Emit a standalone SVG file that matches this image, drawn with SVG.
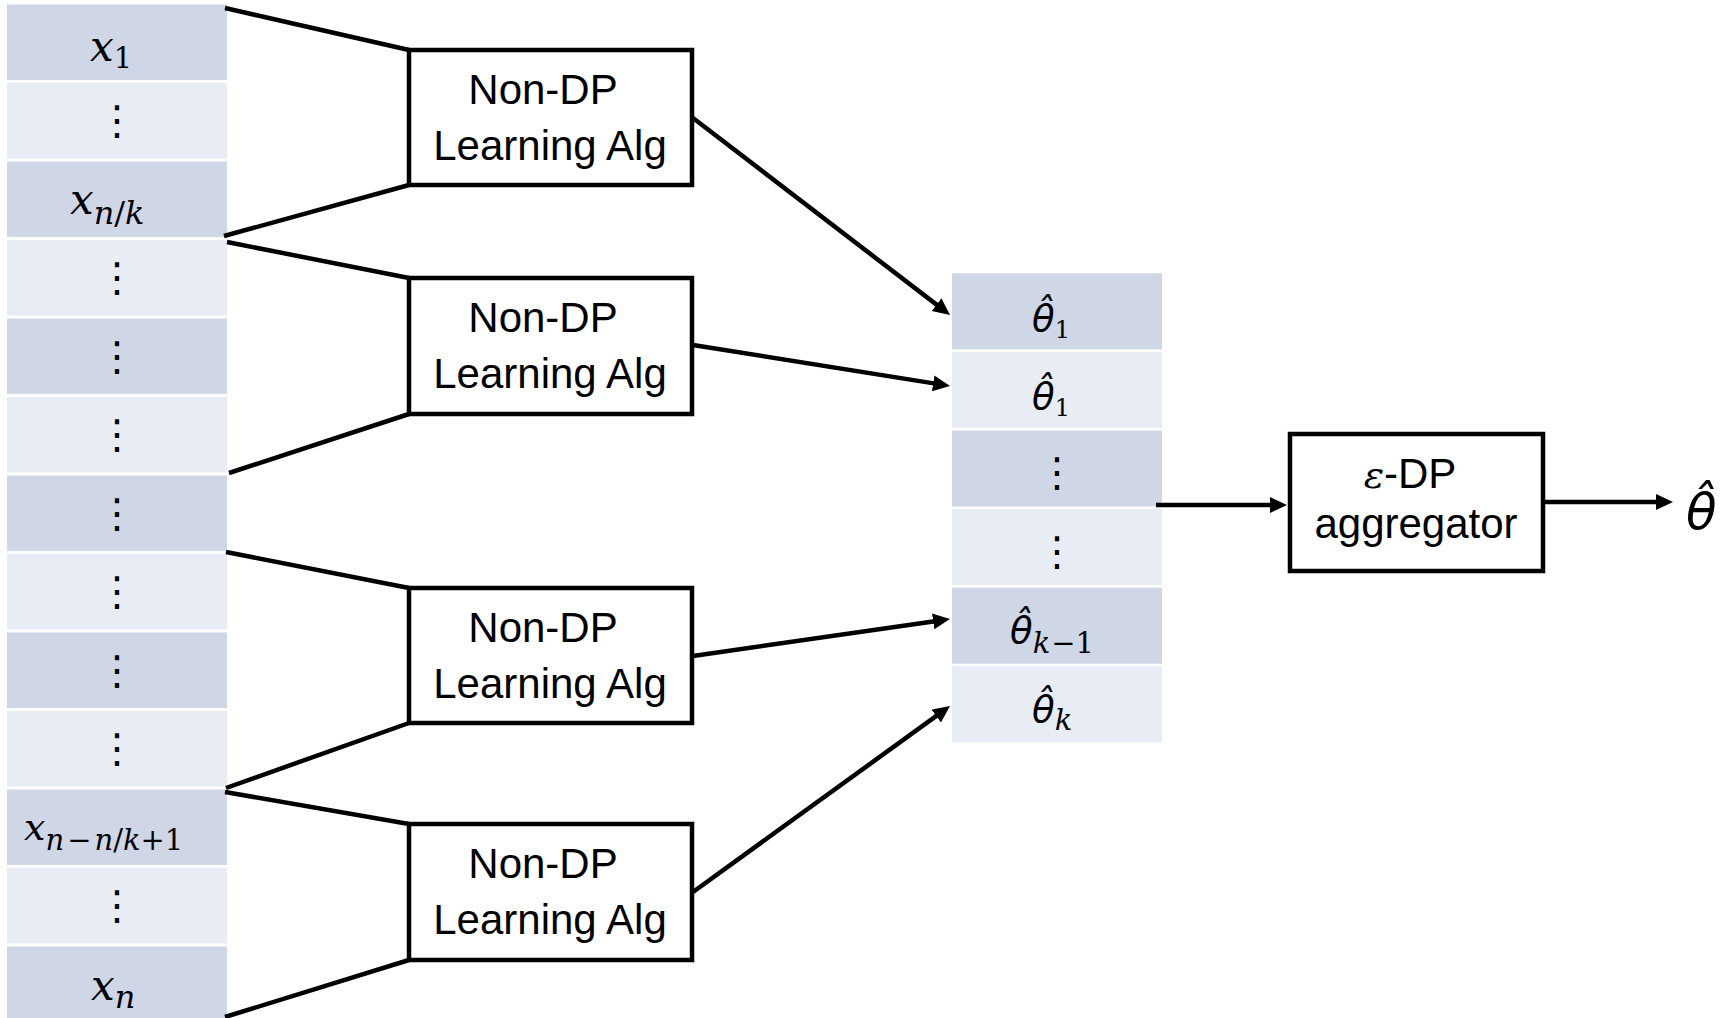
<svg xmlns="http://www.w3.org/2000/svg" width="1731" height="1018" viewBox="0 0 1731 1018">
<style>
.dk{fill:#CFD6E5}
.lt{fill:#E8ECF4}
.box{fill:#fff;stroke:#000;stroke-width:4.5}
.ln{fill:none;stroke:#000;stroke-width:4.5}
.lbl{font-family:"Liberation Sans",Arial,sans-serif;font-size:42px;fill:#000}
.m{font-family:"DejaVu Serif","Liberation Serif",serif;font-style:italic;fill:#000}
.th{font-family:"DejaVu Sans",sans-serif;font-style:italic;fill:#000}
.sb{font-family:"DejaVu Serif","Liberation Serif",serif}
.u{font-style:normal}
.dots{font-family:"DejaVu Sans",sans-serif;font-size:40px;fill:#000}
</style>
<defs>
<marker id="ah" markerUnits="userSpaceOnUse" markerWidth="18" markerHeight="17" refX="7" refY="8" orient="auto">
<path d="M0,0 L17,8 L0,16 Z" fill="#000"/>
</marker>
</defs>
<rect width="1731" height="1018" fill="#fff"/>

<g id="data-column">
<rect class="dk" x="7" y="4.5" width="220" height="75.5"/>
<rect class="lt" x="7" y="83" width="220" height="75.5"/>
<rect class="dk" x="7" y="161.5" width="220" height="75.5"/>
<rect class="lt" x="7" y="240" width="220" height="75.5"/>
<rect class="dk" x="7" y="318.5" width="220" height="75.5"/>
<rect class="lt" x="7" y="397" width="220" height="75.5"/>
<rect class="dk" x="7" y="475.5" width="220" height="75.5"/>
<rect class="lt" x="7" y="554" width="220" height="75.5"/>
<rect class="dk" x="7" y="632.5" width="220" height="75.5"/>
<rect class="lt" x="7" y="711" width="220" height="75.5"/>
<rect class="dk" x="7" y="789.5" width="220" height="75.5"/>
<rect class="lt" x="7" y="868" width="220" height="75.5"/>
<rect class="dk" x="7" y="946.5" width="220" height="75.5"/>
<text class="m" x="90" y="61" font-size="42">x<tspan class="u" font-size="29" dy="7">1</tspan></text>
<text class="dots" x="117" y="134" text-anchor="middle">⋮</text>
<text class="m" x="70" y="214" font-size="42">x<tspan font-size="32" dy="10">n<tspan class="u">/</tspan>k</tspan></text>
<text class="dots" x="117" y="291" text-anchor="middle">⋮</text>
<text class="dots" x="117" y="370" text-anchor="middle">⋮</text>
<text class="dots" x="117" y="448" text-anchor="middle">⋮</text>
<text class="dots" x="117" y="527" text-anchor="middle">⋮</text>
<text class="dots" x="117" y="605" text-anchor="middle">⋮</text>
<text class="dots" x="117" y="684" text-anchor="middle">⋮</text>
<text class="dots" x="117" y="762" text-anchor="middle">⋮</text>
<text class="m" x="24" y="840" font-size="38">x<tspan font-size="29" dy="10">n<tspan class="u" dx="3">−</tspan><tspan dx="3">n</tspan><tspan class="u">/</tspan>k<tspan class="u">+1</tspan></tspan></text>
<text class="dots" x="117" y="919" text-anchor="middle">⋮</text>
<text class="m" x="91" y="1000" font-size="42">x<tspan font-size="32" dy="8">n</tspan></text>
</g>

<g id="alg-1">
<rect class="box" x="409" y="50" width="283" height="135"/>
<text class="lbl" x="543" y="104" text-anchor="middle">Non-DP</text>
<text class="lbl" x="550" y="160" text-anchor="middle">Learning Alg</text>
</g>
<g id="alg-2">
<rect class="box" x="409" y="278" width="283" height="136"/>
<text class="lbl" x="543" y="332" text-anchor="middle">Non-DP</text>
<text class="lbl" x="550" y="388" text-anchor="middle">Learning Alg</text>
</g>
<g id="alg-3">
<rect class="box" x="409" y="588" width="283" height="135"/>
<text class="lbl" x="543" y="642" text-anchor="middle">Non-DP</text>
<text class="lbl" x="550" y="698" text-anchor="middle">Learning Alg</text>
</g>
<g id="alg-4">
<rect class="box" x="409" y="824" width="283" height="136"/>
<text class="lbl" x="543" y="878" text-anchor="middle">Non-DP</text>
<text class="lbl" x="550" y="934" text-anchor="middle">Learning Alg</text>
</g>

<g id="theta-column">
<rect class="dk" x="952" y="273.3" width="210" height="76"/>
<rect class="lt" x="952" y="351.9" width="210" height="76"/>
<rect class="dk" x="952" y="430.5" width="210" height="76"/>
<rect class="lt" x="952" y="509.1" width="210" height="76"/>
<rect class="dk" x="952" y="587.7" width="210" height="76"/>
<rect class="lt" x="952" y="666.3" width="210" height="76"/>
<text class="th" x="1032" y="331" font-size="37">θ̂<tspan class="sb u" font-size="24" dy="7">1</tspan></text>
<text class="th" x="1032" y="409" font-size="37">θ̂<tspan class="sb u" font-size="24" dy="7">1</tspan></text>
<text class="dots" x="1057" y="486" text-anchor="middle">⋮</text>
<text class="dots" x="1057" y="565" text-anchor="middle">⋮</text>
<text class="th" x="1010" y="643" font-size="37">θ̂<tspan class="sb" font-size="29" dy="10">k<tspan class="u" dx="1">−1</tspan></tspan></text>
<text class="th" x="1032" y="722" font-size="37">θ̂<tspan class="sb" font-size="29" dy="8">k</tspan></text>
</g>

<g id="aggregator">
<rect class="box" x="1290" y="434" width="253" height="137"/>
<text class="lbl" x="1410" y="488" text-anchor="middle"><tspan class="m" font-size="38">ε</tspan>-DP</text>
<text class="lbl" x="1416" y="538" text-anchor="middle">aggregator</text>
</g>

<g id="output">
<text class="th" x="1686" y="529" font-size="50">θ̂</text>
</g>

<g id="connectors">
<line class="ln" x1="225" y1="8" x2="409" y2="50"/>
<line class="ln" x1="224" y1="236" x2="409" y2="185"/>
<line class="ln" x1="227" y1="242" x2="409" y2="278"/>
<line class="ln" x1="229" y1="473" x2="409" y2="414"/>
<line class="ln" x1="226" y1="552" x2="409" y2="588"/>
<line class="ln" x1="226" y1="788" x2="409" y2="723"/>
<line class="ln" x1="225" y1="792" x2="409" y2="824"/>
<line class="ln" x1="225" y1="1017" x2="409" y2="960"/>
<line class="ln" x1="693" y1="118" x2="942.1" y2="308.9" marker-end="url(#ah)"/>
<line class="ln" x1="693" y1="345" x2="940.1" y2="384.4" marker-end="url(#ah)"/>
<line class="ln" x1="693" y1="656" x2="940.1" y2="620.4" marker-end="url(#ah)"/>
<line class="ln" x1="693" y1="892" x2="941.9" y2="711.9" marker-end="url(#ah)"/>
<line class="ln" x1="1156" y1="505" x2="1277" y2="505" marker-end="url(#ah)"/>
<line class="ln" x1="1543" y1="502" x2="1663" y2="502" marker-end="url(#ah)"/>
</g>
</svg>
